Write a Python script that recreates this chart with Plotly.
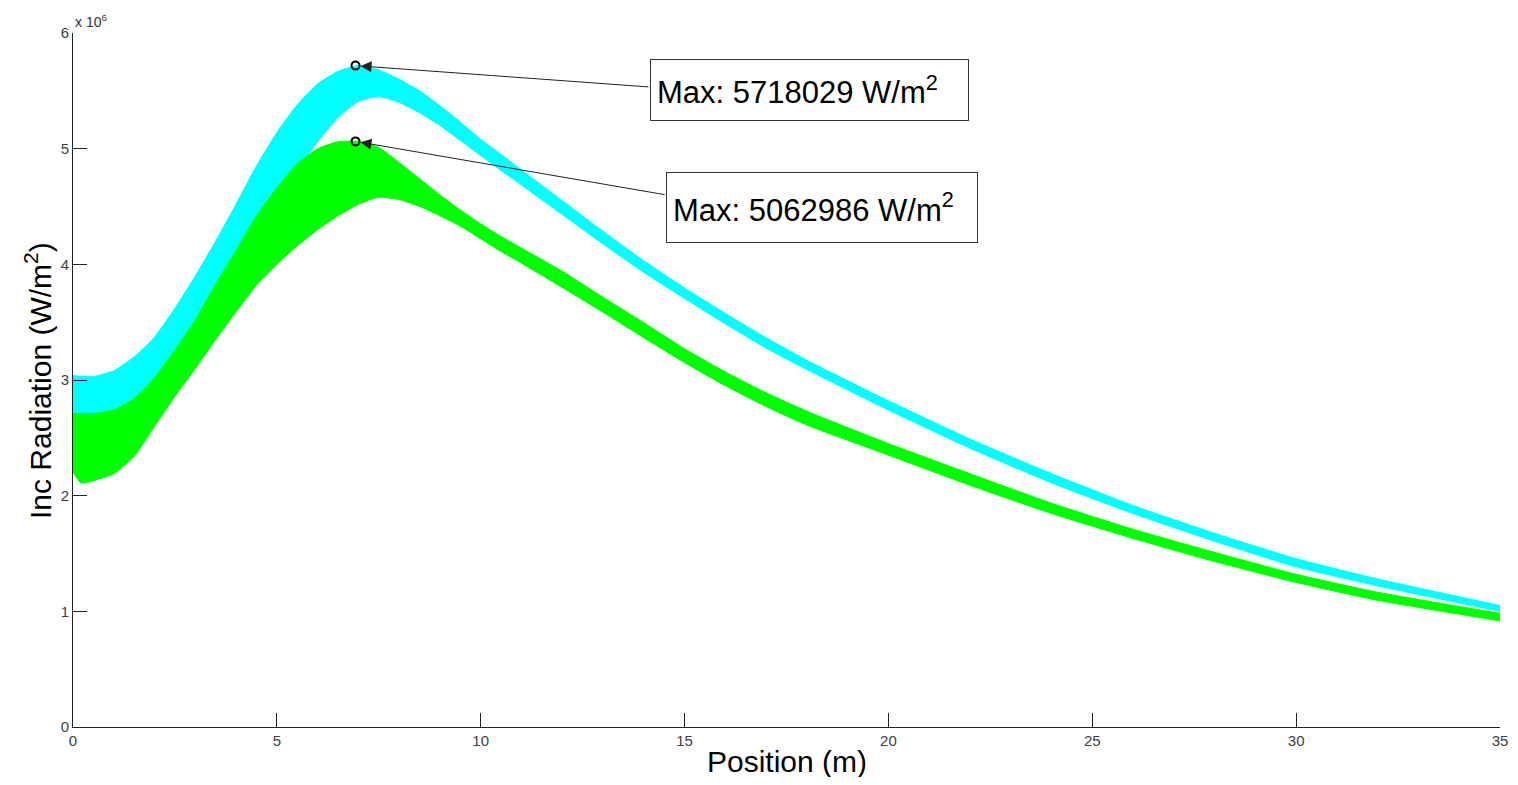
import plotly.graph_objects as go

# ---------------- data (radiation in units of 1e6 W/m^2) ----------------
position = [0, 0.2, 0.5, 1.0, 1.5, 2.0, 2.5, 3.0, 3.5, 4.0, 4.5, 5.0, 5.5, 6.0, 6.5,
            7.0, 7.5, 8.0, 8.5, 9.0, 9.5, 10, 10.5, 11, 12, 13, 14, 15, 16, 17, 18,
            20, 22, 24, 26, 28, 30, 32, 35]

cyan_upper = [3.04, 3.03, 3.03, 3.08, 3.20, 3.37, 3.62, 3.90, 4.20, 4.52, 4.85, 5.14, 5.38, 5.56, 5.67,
              5.718, 5.68, 5.60, 5.50, 5.37, 5.23, 5.08, 4.95, 4.815, 4.55, 4.285, 4.03, 3.795, 3.575,
              3.365, 3.17, 2.82, 2.49, 2.19, 1.915, 1.675, 1.455, 1.28, 1.05]

cyan_lower = [2.65, 2.65, 2.65, 2.68, 2.78, 2.95, 3.18, 3.45, 3.75, 4.05, 4.35, 4.60, 4.82, 5.06, 5.27,
              5.41, 5.45, 5.40, 5.31, 5.20, 5.07, 4.94, 4.81, 4.685, 4.43, 4.175, 3.93, 3.705, 3.485,
              3.275, 3.09, 2.74, 2.41, 2.11, 1.845, 1.605, 1.385, 1.22, 1.00]

green_upper = [2.71, 2.71, 2.71, 2.74, 2.84, 3.02, 3.26, 3.52, 3.83, 4.12, 4.42, 4.66, 4.87, 5.00, 5.06,
               5.063, 5.01, 4.88, 4.74, 4.60, 4.47, 4.35, 4.24, 4.14, 3.94, 3.715, 3.495, 3.27, 3.07,
               2.89, 2.73, 2.45, 2.19, 1.935, 1.71, 1.51, 1.32, 1.165, 0.983]

green_lower = [2.20, 2.11, 2.13, 2.19, 2.34, 2.60, 2.86, 3.10, 3.35, 3.59, 3.82, 4.00, 4.16, 4.30, 4.42,
               4.52, 4.58, 4.56, 4.50, 4.42, 4.33, 4.22, 4.11, 4.01, 3.80, 3.585, 3.365, 3.15, 2.95,
               2.77, 2.61, 2.35, 2.09, 1.845, 1.63, 1.43, 1.25, 1.095, 0.917]

peak_positions = [6.93, 6.93]
peak_values = [5718029, 5062986]          # W/m^2
label_anchor_x = [14.15, 14.55]           # data-x of the text boxes' left edge
label_anchor_y = [5.533, 4.60]            # where the arrow leaves the box
label_top_y = [5.775, 4.80]

x_ticks = [0, 5, 10, 15, 20, 25, 30, 35]
y_ticks = [0, 1, 2, 3, 4, 5, 6]

CYAN = "#00FFFF"
GREEN = "#00FF00"
FONT = "Liberation Sans, Arial, sans-serif"
LINE = dict(width=1, shape="spline", smoothing=0.5)

fig = go.Figure()

# cyan band
fig.add_trace(go.Scatter(x=position, y=cyan_lower, mode="lines",
                         line=dict(color=CYAN, **LINE), showlegend=False, hoverinfo="skip"))
fig.add_trace(go.Scatter(x=position, y=cyan_upper, mode="lines", fill="tonexty", fillcolor=CYAN,
                         line=dict(color=CYAN, **LINE), showlegend=False, hoverinfo="skip"))
# green band
fig.add_trace(go.Scatter(x=position, y=green_lower, mode="lines",
                         line=dict(color=GREEN, **LINE), showlegend=False, hoverinfo="skip"))
fig.add_trace(go.Scatter(x=position, y=green_upper, mode="lines", fill="tonexty", fillcolor=GREEN,
                         line=dict(color=GREEN, **LINE), showlegend=False, hoverinfo="skip"))

# peak markers
fig.add_trace(go.Scatter(x=peak_positions, y=[v / 1e6 for v in peak_values], mode="markers",
                         marker=dict(symbol="circle-open", size=8, color="black",
                                     line=dict(width=2, color="black")),
                         showlegend=False, hoverinfo="skip"))

annotations = []
box_w = [305, 298]
box_h = [48, 57]
for i in range(2):
    # arrow from text box to the peak
    annotations.append(dict(
        x=peak_positions[i], y=peak_values[i] / 1e6, xref="x", yref="y",
        ax=label_anchor_x[i], ay=label_anchor_y[i], axref="x", ayref="y",
        text="", showarrow=True, arrowhead=2, arrowsize=2.2, arrowwidth=1,
        arrowcolor="#222222", standoff=5))
    # text box
    annotations.append(dict(
        x=label_anchor_x[i], y=label_top_y[i], xref="x", yref="y",
        xanchor="left", yanchor="top", showarrow=False,
        text=f"Max: {peak_values[i]} W/m<sup>2</sup>",
        font=dict(family=FONT, size=31, color="black"),
        bgcolor="white", bordercolor="#333333", borderwidth=1, borderpad=6,
        width=box_w[i], height=box_h[i], align="left", valign="middle"))

# axis titles and exponent label
annotations.append(dict(x=0.5, y=-0.049, xref="paper", yref="paper", xanchor="center",
                        yanchor="middle", showarrow=False, text="Position (m)",
                        font=dict(family=FONT, size=30, color="black")))
annotations.append(dict(x=-0.0245, y=0.4986, xref="paper", yref="paper", xanchor="center",
                        yanchor="middle", showarrow=False, textangle=-90,
                        text="Inc Radiation (W/m<sup>2</sup>)",
                        font=dict(family=FONT, size=30, color="black")))
annotations.append(dict(x=0, y=1.0, xref="paper", yref="paper", xanchor="left",
                        yanchor="bottom", showarrow=False, yshift=1,
                        text="x 10<sup>6</sup>",
                        font=dict(family=FONT, size=14, color="#333333")))

fig.update_layout(
    width=1502, height=769,
    margin=dict(l=65, r=10, t=25, b=50),
    paper_bgcolor="white", plot_bgcolor="white",
    annotations=annotations,
    xaxis=dict(range=[0, 35], tickvals=x_ticks, ticktext=[str(t) for t in x_ticks],
               showgrid=False, zeroline=False, showline=True, linecolor="#222222",
               linewidth=1, ticks="inside", ticklen=14, tickcolor="#222222",
               tickfont=dict(family=FONT, size=15, color="#404040"), automargin=False),
    yaxis=dict(range=[0, 6], tickvals=y_ticks, ticktext=[str(t) for t in y_ticks],
               showgrid=False, zeroline=False, showline=True, linecolor="#222222",
               linewidth=1, ticks="inside", ticklen=14, tickcolor="#222222",
               tickfont=dict(family=FONT, size=15, color="#404040"), automargin=False),
    font=dict(family=FONT),
)

fig.write_html("out.html")
